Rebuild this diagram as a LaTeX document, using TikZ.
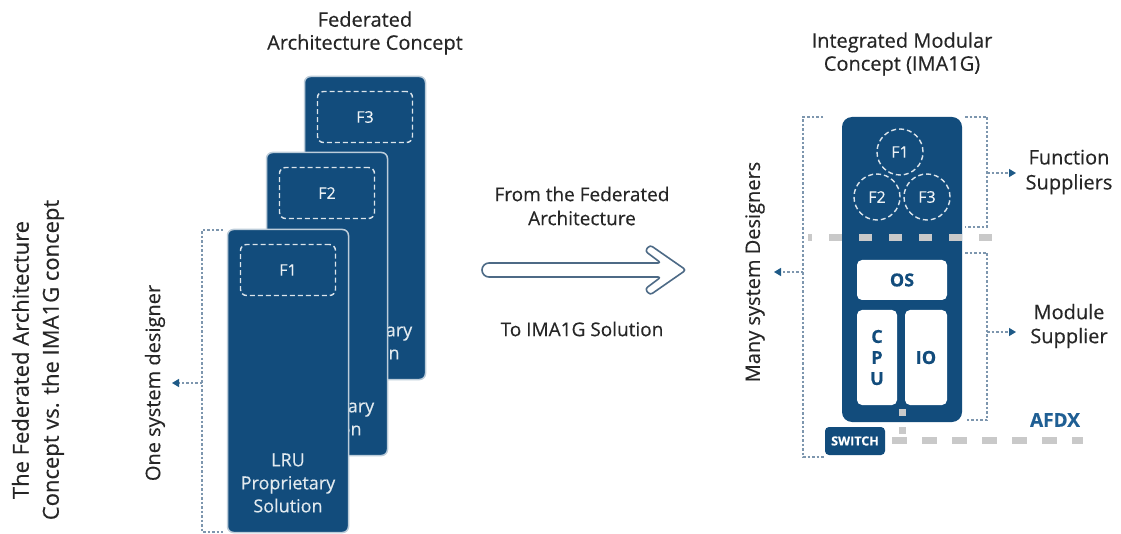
\documentclass[tikz,border=0pt]{standalone}
\usepackage{fontspec}
\setmainfont{Open Sans}[FakeBold=0.35]
\usetikzlibrary{arrows.meta}
\definecolor{navy}{HTML}{124C7C}
\definecolor{txt}{HTML}{262626}
\definecolor{dotc}{HTML}{7D96AE}
\definecolor{tipc}{HTML}{1E5A87}
\definecolor{dashg}{HTML}{C9C9C9}
\definecolor{arrc}{HTML}{4D6A86}
\definecolor{afdxc}{HTML}{1F5F94}
\begin{document}
\begin{tikzpicture}[x=1pt,y=-1pt,
  lru/.style={fill=navy, draw=white!72!navy, line width=1.5pt, rounded corners=6pt,
    minimum width=121pt, minimum height=303pt, inner sep=0pt},
  fbox/.style={draw=white!85!navy, line width=1.4pt, dash pattern=on 5pt off 3pt,
    rounded corners=6pt, minimum width=95pt, minimum height=51pt, inner sep=0pt,
    text=white!92!navy, font=\fontsize{16}{18}\selectfont},
  fcirc/.style={circle, draw=white!85!navy, line width=1.4pt, dash pattern=on 5pt off 3pt,
    minimum size=46pt, inner sep=0pt, text=white!92!navy, font=\fontsize{16}{18}\selectfont},
  lrutext/.style={text=white!88!navy, align=center, font=\fontsize{18}{23}\selectfont},
  lbl/.style={text=txt, align=center, font=\fontsize{19}{24}\selectfont},
  ttl/.style={text=txt, align=center, font=\fontsize{20}{23}\selectfont},
  wbox/.style={fill=white, rounded corners=5pt, inner sep=0pt, text=navy,
    font=\bfseries\fontsize{18}{21}\selectfont, align=center},
  dotline/.style={dotc, line width=1.3pt, dash pattern=on 2.5pt off 2pt},
  dotarrow/.style={dotline, -{Triangle[length=7pt,width=8pt,color=tipc]}},
  graydash/.style={dashg, line width=7pt, dash pattern=on 13pt off 17pt},
  bigarrow/.style={draw=arrc, line width=1.6pt, fill=white, line join=round}
]
\fill[white] (0,0) rectangle (1121,534);
\useasboundingbox (0,0) rectangle (1121,534);

% left title
\node[ttl, rotate=90, font=\fontsize{22}{30}\selectfont] (maintitle) at (38,360)
  {The Federated Architecture\\Concept vs. the IMA1G concept};

% federated title
\node[ttl] (fedtitle) at (365,33) {Federated\\Architecture Concept};

% LRU stack
\node[lru] (lru3) at (365,228) {};
\node[fbox] (f3) at (365,117) {F3};
\node[lrutext] (t3) at (365,330) {LRU\\Proprietary\\Solution};
\node[lru] (lru2) at (327,304) {};
\node[fbox] (f2) at (327,193) {F2};
\node[lrutext] (t2) at (327,406) {LRU\\Proprietary\\Solution};
\node[lru] (lru1) at (288,381) {};
\node[fbox] (f1) at (288,270) {F1};
\node[lrutext] (t1) at (288,483) {LRU\\Proprietary\\Solution};

% one system designer bracket
\coordinate (lbA) at (223,230);
\coordinate (lbB) at (202,230);
\coordinate (lbC) at (202,532);
\coordinate (lbD) at (223,532);
\coordinate (lbM) at (202,383);
\coordinate (lbT) at (172,383);
\draw[dotline] (lbA) -- (lbB) -- (lbC) -- (lbD);
\draw[dotarrow] (lbM) -- (lbT);
\node[lbl, rotate=90, font=\fontsize{20}{24}\selectfont] (onesys) at (155,383) {One system designer};

% middle arrow
\node[lbl] (from) at (582,206) {From the Federated\\Architecture};
\draw[bigarrow] (600,263) [rounded corners=3pt] -- (661,263) -- (645,251) -- (650,245)
  -- (686,270) -- (650,295) -- (645,289) -- (661,277) -- (600,277)
  [rounded corners=7pt] -- (482,277) -- (482,263) -- cycle;
\node[lbl] (to) at (582,329) {To IMA1G Solution};

% IMA title
\node[ttl] (imatitle) at (902,54) {Integrated Modular\\Concept (IMA1G)};

% IMA module
\node[fill=navy, rounded corners=10pt, minimum width=120pt, minimum height=305pt, inner sep=0pt] (ima) at (902,269.5) {};
\node[fcirc] (c1) at (900,152) {F1};
\node[fcirc] (c2) at (877,197) {F2};
\node[fcirc] (c3) at (927,197) {F3};
\coordinate (sepL) at (808,238);
\coordinate (sepR) at (996,238);
\draw[graydash, dash phase=9pt] (sepL) -- (sepR);
\node[wbox, minimum width=90pt, minimum height=40pt] (os) at (902,280) {OS};
\node[wbox, minimum width=40pt, minimum height=95pt, font=\bfseries\fontsize{18}{21}\selectfont] (cpu) at (877,357.5) {C\\P\\U};
\node[wbox, minimum width=42pt, minimum height=95pt] (io) at (926,357.5) {IO};
\node[fill=dashg, minimum size=7pt, inner sep=0pt] (sq1) at (902,412) {};
\node[fill=dashg, minimum size=7pt, inner sep=0pt] (sq2) at (902,430) {};
\coordinate (afL) at (892,440);
\coordinate (afR) at (1083,440);
\draw[graydash, dash pattern=on 15pt off 15pt] (afL) -- (afR);
\node[fill=navy, rounded corners=4pt, minimum width=60pt, minimum height=28pt, inner sep=0pt,
  text=white, font=\bfseries\fontsize{12.5}{14}\selectfont] (switch) at (855,441) {SWITCH};
\node[text=afdxc, font=\bfseries\fontsize{19}{22}\selectfont] (afdx) at (1055,420) {AFDX};

% many designers bracket
\coordinate (mbA) at (823,117);
\coordinate (mbB) at (803,117);
\coordinate (mbC) at (803,457);
\coordinate (mbD) at (825,457);
\coordinate (mbM) at (803,272);
\coordinate (mbT) at (774,272);
\draw[dotline] (mbA) -- (mbB) -- (mbC) -- (mbD);
\draw[dotarrow] (mbM) -- (mbT);
\node[lbl, rotate=90, font=\fontsize{20}{24}\selectfont] (many) at (755,272) {Many system Designers};

% function suppliers bracket
\coordinate (fsA) at (965,117);
\coordinate (fsB) at (987,117);
\coordinate (fsC) at (987,227);
\coordinate (fsD) at (965,227);
\coordinate (fsM) at (987,173);
\coordinate (fsT) at (1016,173);
\draw[dotline] (fsA) -- (fsB) -- (fsC) -- (fsD);
\draw[dotarrow] (fsM) -- (fsT);
\node[lbl, font=\fontsize{20}{25}\selectfont] (funcs) at (1069,172) {Function\\Suppliers};

% module supplier bracket
\coordinate (msA) at (965,253);
\coordinate (msB) at (987,253);
\coordinate (msC) at (987,420);
\coordinate (msD) at (965,420);
\coordinate (msM) at (987,332);
\coordinate (msT) at (1016,332);
\draw[dotline] (msA) -- (msB) -- (msC) -- (msD);
\draw[dotarrow] (msM) -- (msT);
\node[lbl, font=\fontsize{20}{24}\selectfont] (mods) at (1069,326) {Module\\Supplier};
\end{tikzpicture}
\end{document}
